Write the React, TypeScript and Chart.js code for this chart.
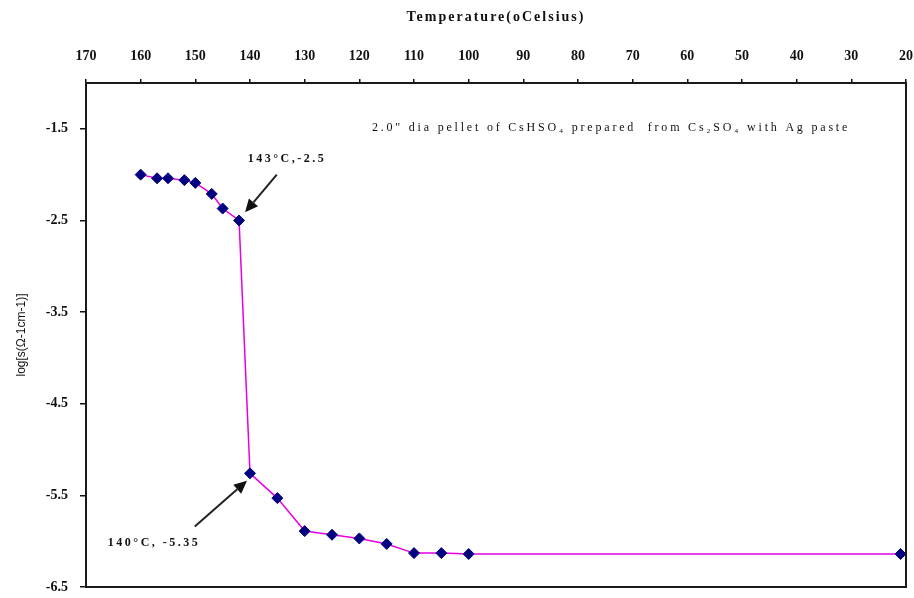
import React, { useEffect, useRef } from 'react';
import { Chart, registerables } from 'chart.js';

Chart.register(...registerables);

// ---- data ----
const temperatures = [160, 157, 155, 152, 150, 147, 145, 142, 140, 135, 130, 125, 120, 115, 110, 105, 100, 21];
const logConductivity = [-2.0, -2.04, -2.04, -2.06, -2.09, -2.21, -2.37, -2.5, -5.26, -5.53, -5.89, -5.93, -5.97, -6.03, -6.13, -6.13, -6.14, -6.14];
const xTickValues = [170, 160, 150, 140, 130, 120, 110, 100, 90, 80, 70, 60, 50, 40, 30, 20];
const yTickValues = [-6.5, -5.5, -4.5, -3.5, -2.5, -1.5];
const xTitle = 'Temperature(oCelsius)';
const yTitle = 'log[s(Ω-1cm-1)]';

const noteText = '2.0" dia pellet of CsHSO₄ prepared  from Cs₂SO₄ with Ag paste';
const noteX = 117.7;
const noteY = -1.49;

const annotationLabels = ['143°C,-2.5', '140°C, -5.35'];
const annotationLabelX = [140.4, 166];
const annotationLabelY = [-1.83, -6.02];
const arrowTailX = [135.1, 150.1];
const arrowTailY = [-2.0, -5.84];
const arrowHeadX = [140.9, 140.55];
const arrowHeadY = [-2.41, -5.34];

const SERIF = '"Liberation Serif", "Times New Roman", serif';

const annotationPlugin = {
  id: 'frameAndNotes',
  afterDatasetsDraw(chart: any) {
    const { ctx, chartArea, scales } = chart;
    const xs = scales.x;
    const ys = scales.y;
    ctx.save();
    // frame
    ctx.strokeStyle = '#1a1a1a';
    ctx.lineWidth = 2;
    ctx.strokeRect(chartArea.left, chartArea.top, chartArea.right - chartArea.left, chartArea.bottom - chartArea.top);

    // axis title (top)
    ctx.fillStyle = '#111';
    ctx.textBaseline = 'middle';
    ctx.textAlign = 'center';
    ctx.font = `bold 14px ${SERIF}`;
    try { (ctx as any).letterSpacing = '2px'; } catch (e) {}
    ctx.fillText(xTitle, (chartArea.left + chartArea.right) / 2, 17);

    // note
    ctx.textAlign = 'left';
    ctx.font = `12px ${SERIF}`;
    try { (ctx as any).letterSpacing = '2.8px'; } catch (e) {}
    ctx.fillText(noteText, xs.getPixelForValue(noteX), ys.getPixelForValue(noteY));

    // annotations
    ctx.font = `bold 12px ${SERIF}`;
    try { (ctx as any).letterSpacing = '2.5px'; } catch (e) {}
    annotationLabels.forEach((t, i) => {
      ctx.fillText(t, xs.getPixelForValue(annotationLabelX[i]), ys.getPixelForValue(annotationLabelY[i]));
    });
    try { (ctx as any).letterSpacing = '0px'; } catch (e) {}

    // arrows
    for (let i = 0; i < arrowTailX.length; i++) {
      const x1 = xs.getPixelForValue(arrowTailX[i]);
      const y1 = ys.getPixelForValue(arrowTailY[i]);
      const x2 = xs.getPixelForValue(arrowHeadX[i]);
      const y2 = ys.getPixelForValue(arrowHeadY[i]);
      const ang = Math.atan2(y2 - y1, x2 - x1);
      const headLen = 13;
      const headW = 6;
      const bx = x2 - headLen * Math.cos(ang);
      const by = y2 - headLen * Math.sin(ang);
      ctx.strokeStyle = '#222';
      ctx.lineWidth = 2;
      ctx.beginPath();
      ctx.moveTo(x1, y1);
      ctx.lineTo(bx, by);
      ctx.stroke();
      ctx.fillStyle = '#111';
      ctx.beginPath();
      ctx.moveTo(x2, y2);
      ctx.lineTo(bx + headW * Math.sin(ang), by - headW * Math.cos(ang));
      ctx.lineTo(bx - headW * Math.sin(ang), by + headW * Math.cos(ang));
      ctx.closePath();
      ctx.fill();
    }
    ctx.restore();
  },
};

export default function App() {
  const canvasRef = useRef<HTMLCanvasElement | null>(null);

  useEffect(() => {
    if (!canvasRef.current) return;
    const chart = new Chart(canvasRef.current, {
      type: 'line',
      data: {
        datasets: [
          {
            data: temperatures.map((t, i) => ({ x: t, y: logConductivity[i] })),
            borderColor: '#e600e6',
            borderWidth: 1.5,
            pointStyle: 'rectRot',
            pointRadius: 5.5,
            pointBackgroundColor: '#000080',
            pointBorderColor: '#000080',
            pointBorderWidth: 1,
            tension: 0,
            fill: false,
          },
        ],
      },
      options: {
        responsive: false,
        animation: false,
        layout: { padding: { left: 0, top: 0, right: 8, bottom: 11 } },
        plugins: {
          legend: { display: false },
          tooltip: { enabled: false },
          title: { display: false },
        },
        scales: {
          x: {
            type: 'linear',
            position: 'top',
            reverse: true,
            min: 20,
            max: 170,
            afterBuildTicks: (scale: any) => {
              scale.ticks = xTickValues.map((v) => ({ value: v }));
            },
            afterFit: (scale: any) => {
              scale.height = 83;
              scale.paddingLeft = 0;
              scale.paddingRight = 0;
            },
            grid: { drawOnChartArea: false, drawTicks: true, tickLength: 4, color: '#111', lineWidth: 1.5 },
            border: { display: false },
            ticks: {
              autoSkip: false,
              maxRotation: 0,
              padding: 14,
              color: '#111',
              font: { family: SERIF, size: 14, weight: 'bold' },
              callback: (v: any) => String(v),
            },
            title: { display: false },
          },
          y: {
            type: 'linear',
            min: -6.5,
            max: -1.0,
            afterBuildTicks: (scale: any) => {
              scale.ticks = yTickValues.map((v) => ({ value: v }));
            },
            afterFit: (scale: any) => {
              scale.width = 86;
              scale.paddingTop = 0;
              scale.paddingBottom = 0;
            },
            grid: { drawOnChartArea: false, drawTicks: true, tickLength: 6, color: '#111', lineWidth: 1.5 },
            border: { display: false },
            ticks: {
              padding: 12,
              color: '#111',
              font: { family: SERIF, size: 14, weight: 'bold' },
              callback: (v: any) => Number(v).toFixed(1),
            },
            title: {
              display: true,
              text: yTitle,
              color: '#111',
              font: { family: '"Liberation Sans", Arial, sans-serif', size: 12 },
              padding: { top: 14, bottom: 0 },
            },
          },
        },
      },
      plugins: [annotationPlugin],
    } as any);
    return () => chart.destroy();
  }, []);

  return (
    <div style={{ position: 'fixed', left: 0, top: 0, width: 914, height: 598, background: '#fff' }}>
      <canvas ref={canvasRef} width={914} height={598} style={{ display: 'block' }} />
    </div>
  );
}
